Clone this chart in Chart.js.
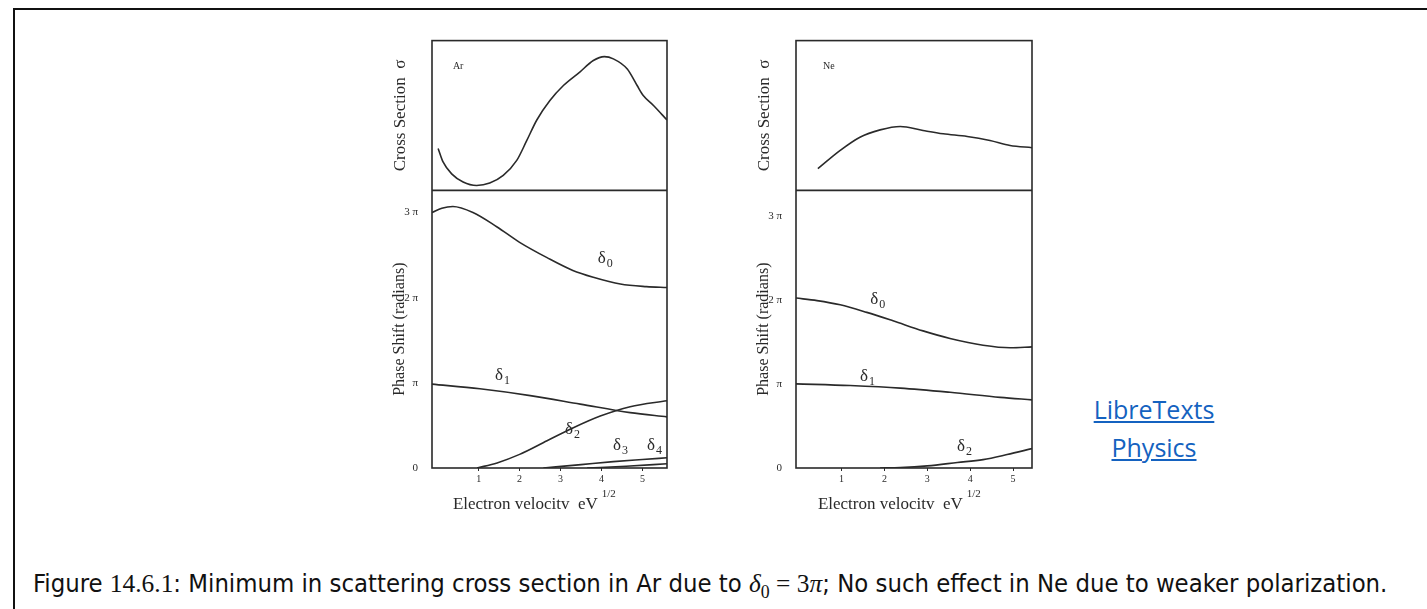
<!DOCTYPE html>
<html>
<head>
<meta charset="utf-8">
<script src="https://cdn.jsdelivr.net/npm/chart.js@4.4.1/dist/chart.umd.min.js"></script>
<style>
  body { margin: 0; background: #fff; width: 1427px; height: 609px; overflow: hidden; position: relative; }
  #frame { position: absolute; left: 13px; top: 8px; width: 1500px; height: 700px; border-left: 2px solid #111; border-top: 2px solid #111; }
  canvas { position: absolute; }
  #ar { left: 380px; top: 28px; }
  #ne { left: 744px; top: 28px; }
  #link { position: absolute; left: 1054px; top: 390px; width: 200px; text-align: center;
          font-family: "Open Sans", sans-serif; font-size: 25px; line-height: 38px; }
  #link a { color: #1462c0; text-decoration: underline; }
  #caption { position: absolute; left: 33px; top: 568px; white-space: nowrap; color: #111;
             font-family: "DejaVu Sans Condensed", "Noto Sans", sans-serif; font-size: 21px; }
  #caption .m { font-family: "Liberation Serif", "DejaVu Serif", serif; }
  #caption sub { font-size: 0.7em; }
</style>
</head>
<body>
<div id="frame"></div>
<canvas id="ar" width="292" height="492"></canvas>
<canvas id="ne" width="293" height="492"></canvas>
<div id="link"><a href="#">LibreTexts</a><br><a href="#">Physics</a></div>
<div id="caption">Figure <span class="m">14.6.1</span>: Minimum in scattering cross section in Ar due to <span class="m"><i>δ</i><sub>0</sub> = 3<i>π</i></span>; No such effect in Ne due to weaker polarization.</div>
<script>
// tick values shared by both panels (y in units of pi)
const xTickVals = [1, 2, 3, 4, 5];
const yTickVals = [0, 1, 2, 3];
const yTickText = ['0', 'π', '2 π', '3 π'];

// Argon
const arSigmaX = [0.01, 0.13, 0.34, 0.62, 0.95, 1.27, 1.6, 1.93, 2.17, 2.42, 2.74, 3.07, 3.47, 3.8, 4.07, 4.29, 4.63, 4.87, 5.02, 5.27, 5.6];
const arSigmaY = [0.28, 0.19, 0.11, 0.056, 0.033, 0.049, 0.10, 0.20, 0.33, 0.47, 0.60, 0.70, 0.79, 0.867, 0.893, 0.878, 0.81, 0.70, 0.633, 0.567, 0.47];
const arD0X = [-0.14, 0.1, 0.37, 0.86, 1.45, 2.0, 2.67, 3.3, 3.8, 4.46, 5.1, 5.6];
const arD0Y = [3.0, 3.05, 3.07, 3.0, 2.83, 2.65, 2.47, 2.32, 2.24, 2.16, 2.13, 2.12];
const arD1X = [-0.14, 1.03, 2.26, 3.48, 4.7, 5.6];
const arD1Y = [0.985, 0.93, 0.85, 0.75, 0.65, 0.6];
const arD2X = [0.96, 1.45, 2.0, 2.67, 3.3, 3.97, 4.7, 5.6];
const arD2Y = [0, 0.06, 0.16, 0.32, 0.47, 0.61, 0.72, 0.79];
const arD3X = [2.58, 3.5, 4.29, 5.0, 5.6];
const arD3Y = [0, 0.04, 0.075, 0.1, 0.12];
const arD4X = [3.65, 4.6, 5.6];
const arD4Y = [0, 0.02, 0.05];

// Neon
const neSigmaX = [0.45, 0.97, 1.43, 1.9, 2.37, 2.9, 3.37, 3.93, 4.46, 4.93, 5.44];
const neSigmaY = [0.145, 0.267, 0.355, 0.404, 0.427, 0.40, 0.378, 0.36, 0.333, 0.30, 0.285];
const neD0X = [-0.06, 0.43, 0.97, 1.59, 2.2, 2.9, 3.53, 4.3, 4.93, 5.44];
const neD0Y = [2.02, 1.99, 1.94, 1.85, 1.75, 1.63, 1.54, 1.46, 1.43, 1.44];
const neD1X = [-0.06, 1.2, 2.37, 3.53, 4.7, 5.44];
const neD1Y = [1.0, 0.98, 0.95, 0.9, 0.84, 0.81];
const neD2X = [1.9, 2.37, 3.0, 3.7, 4.3, 4.86, 5.44];
const neD2Y = [0, 0.005, 0.025, 0.065, 0.10, 0.16, 0.23];

const ink = '#2a2a2a';
const serif = '"Liberation Serif", "DejaVu Serif", serif';
const pts = (xs, ys) => xs.map((x, i) => ({x: x, y: ys[i]}));

// frame, divider, curve labels and x title
const framePlugin = {
  id: 'frame',
  afterDatasetsDraw(chart, args, opts) {
    const {ctx, chartArea: a, scales} = chart;
    ctx.save();
    ctx.strokeStyle = ink;
    ctx.lineWidth = 1.6;
    ctx.strokeRect(a.left, a.top, a.right - a.left, a.bottom - a.top);
    ctx.beginPath();
    ctx.moveTo(a.left, scales.ys.bottom);
    ctx.lineTo(a.right, scales.ys.bottom);
    ctx.stroke();
    ctx.fillStyle = ink;
    ctx.textBaseline = 'alphabetic';
    opts.notes.forEach(n => {
      const px = scales.x.getPixelForValue(n.x);
      const py = scales[n.axis].getPixelForValue(n.y);
      ctx.font = n.size + 'px ' + serif;
      ctx.fillText(n.text, px, py);
      if (n.sub) {
        const w = ctx.measureText(n.text).width;
        ctx.font = '12px ' + serif;
        ctx.fillText(n.sub, px + w + 1, py + 4);
      }
    });
    const tx = scales.x.getPixelForValue(opts.titleAt);
    const ty = a.bottom + 41;
    ctx.font = '17px ' + serif;
    ctx.fillText('Electron velocitv  eV', tx, ty);
    const tw = ctx.measureText('Electron velocitv  eV').width;
    ctx.font = '11px ' + serif;
    ctx.fillText('1/2', tx + tw + 4, ty - 12);
    ctx.restore();
  }
};

function panel(id, p) {
  return new Chart(document.getElementById(id), {
    type: 'line',
    data: {
      datasets: p.series.map(s => ({
        data: pts(s[0], s[1]),
        yAxisID: s[2],
        borderColor: ink,
        borderWidth: 1.6,
        pointRadius: 0,
        fill: false,
        cubicInterpolationMode: 'monotone'
      }))
    },
    options: {
      responsive: false,
      animation: false,
      devicePixelRatio: 1,
      layout: {padding: {top: 0, right: 5, left: 0, bottom: 0}},
      plugins: {
        legend: {display: false},
        tooltip: {enabled: false},
        frame: {notes: p.notes, titleAt: p.titleAt}
      },
      scales: {
        x: {
          type: 'linear', min: p.xMin, max: p.xMax,
          afterBuildTicks: s => { s.ticks = xTickVals.map(v => ({value: v})); },
          afterFit: s => { s.height = 52; },
          ticks: {autoSkip: false, maxRotation: 0, padding: 2, color: ink, font: {family: serif, size: 10}},
          grid: {display: true, drawOnChartArea: false, tickLength: 3, color: ink},
          border: {display: false}
        },
        // the stack is filled from the bottom: phase shift first, cross section on top
        yp: {
          type: 'linear', position: 'left', stack: 'p', stackWeight: 278, min: 0, max: p.yMax,
          afterBuildTicks: s => { s.ticks = yTickVals.map(v => ({value: v})); },
          afterFit: s => { s.width = 52; },
          ticks: {autoSkip: false, padding: 6, color: ink, font: {family: serif, size: 11},
                  callback: v => yTickText[yTickVals.indexOf(v)]},
          grid: {display: false},
          border: {display: false},
          title: {display: true, text: 'Phase Shift (radians)', color: ink, font: {family: serif, size: 16}, padding: {top: 10, bottom: 0}}
        },
        ys: {
          type: 'linear', position: 'left', stack: 'p', stackWeight: 150, min: 0, max: 1,
          afterFit: s => { s.width = 52; },
          ticks: {display: false},
          grid: {display: false},
          border: {display: false},
          title: {display: true, text: 'Cross Section  σ', color: ink, font: {family: serif, size: 17}, padding: {top: 10, bottom: 0}}
        }
      }
    },
    plugins: [framePlugin]
  });
}

panel('ar', {
  xMin: -0.14, xMax: 5.6, yMax: 3.26, titleAt: 0.37,
  series: [[arSigmaX, arSigmaY, 'ys'], [arD0X, arD0Y, 'yp'], [arD1X, arD1Y, 'yp'],
           [arD2X, arD2Y, 'yp'], [arD3X, arD3Y, 'yp'], [arD4X, arD4Y, 'yp']],
  notes: [
    {axis: 'ys', x: 0.37, y: 0.81, text: 'Ar', size: 10},
    {axis: 'yp', x: 3.91, y: 2.41, text: 'δ', sub: '0', size: 17},
    {axis: 'yp', x: 1.40, y: 1.03, text: 'δ', sub: '1', size: 17},
    {axis: 'yp', x: 3.11, y: 0.40, text: 'δ', sub: '2', size: 17},
    {axis: 'yp', x: 4.28, y: 0.21, text: 'δ', sub: '3', size: 17},
    {axis: 'yp', x: 5.11, y: 0.21, text: 'δ', sub: '4', size: 17}
  ]
});

panel('ne', {
  xMin: -0.06, xMax: 5.44, yMax: 3.3, titleAt: 0.45,
  series: [[neSigmaX, neSigmaY, 'ys'], [neD0X, neD0Y, 'yp'], [neD1X, neD1Y, 'yp'], [neD2X, neD2Y, 'yp']],
  notes: [
    {axis: 'ys', x: 0.57, y: 0.81, text: 'Ne', size: 10},
    {axis: 'yp', x: 1.67, y: 1.95, text: 'δ', sub: '0', size: 17},
    {axis: 'yp', x: 1.43, y: 1.04, text: 'δ', sub: '1', size: 17},
    {axis: 'yp', x: 3.69, y: 0.20, text: 'δ', sub: '2', size: 17}
  ]
});

// stretch caption to the reference width
const cap = document.getElementById('caption');
const cw = cap.getBoundingClientRect().width;
cap.style.fontSize = (21 * 1355 / cw).toFixed(2) + 'px';
</script>
</body>
</html>
